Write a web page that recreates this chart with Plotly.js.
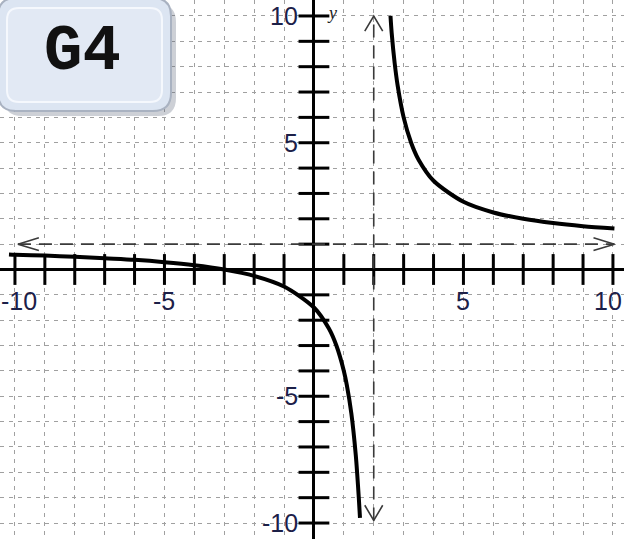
<!DOCTYPE html>
<html>
<head>
<meta charset="utf-8">
<script src="https://cdn.plot.ly/plotly-3.0.1.min.js"></script>
<style>
  html, body { margin: 0; padding: 0; background: #ffffff; }
  #chart { width: 624px; height: 539px; }
</style>
</head>
<body>
<div id="chart"></div>
<script>
// Rational function with a vertical asymptote at x = 2 and a horizontal one at y = 1.
// Left branch (below the horizontal asymptote, heading down toward x = 2)
const leftX = [-10.2, -10, -9, -8, -7, -6, -5, -4, -3, -2, -1, 0, 0.5, 0.75, 1, 1.1, 1.25, 1.4, 1.5, 1.54];
const leftY = [0.59, 0.58, 0.55, 0.5, 0.44, 0.38, 0.29, 0.17, 0, -0.25, -0.67, -1.5, -2.33, -3.0, -4.0, -4.56, -5.67, -7.33, -9.0, -9.8];
// Right branch (coming down from the top, flattening toward y = 1)
const rightX = [2.56, 2.6, 2.7, 2.8, 3, 3.25, 3.5, 4, 5, 6, 7, 8, 9, 10.05];
const rightY = [10.0, 9.33, 8.14, 7.25, 6.0, 5.0, 4.33, 3.5, 2.67, 2.25, 2.0, 1.83, 1.71, 1.62];

// Asymptotes: value and the extent of each dashed line
const verticalAsymptote = [2];
const verticalSpan = [-9.9, 10];
const horizontalAsymptote = [1];
const horizontalSpan = [-9.9, 10.05];

// Axis tick marks and their labels
const tickPositions = [-10, -9, -8, -7, -6, -5, -4, -3, -2, -1, 1, 2, 3, 4, 5, 6, 7, 8, 9, 10];
const xLabelValues = [-10, -5, 5, 10];
const xLabelText = ['-10', '-5', '5', '10'];
const yLabelValues = [10, 5, -5, -10];
const yLabelText = ['10', '5', '-5', '-10'];

const W = 624, H = 539;
const labelColor = '#1c2048';
const asymColor = '#3a3a3a';

const traces = [];

// Tick marks crossing the x axis
traces.push({
  x: tickPositions, y: tickPositions.map(() => 0),
  mode: 'markers', type: 'scatter', hoverinfo: 'skip', showlegend: false,
  marker: { symbol: 'line-ns', size: 22, line: { width: 3, color: '#000' } }
});
// Tick marks crossing the y axis
traces.push({
  x: tickPositions.map(() => 0), y: tickPositions,
  mode: 'markers', type: 'scatter', hoverinfo: 'skip', showlegend: false,
  marker: { symbol: 'line-ew', size: 22, line: { width: 3, color: '#000' } }
});

// Dashed asymptotes
verticalAsymptote.forEach(a => {
  traces.push({
    x: [a, a], y: verticalSpan, mode: 'lines', type: 'scatter', hoverinfo: 'skip', showlegend: false,
    line: { color: asymColor, width: 1.6, dash: '13px,8px' }
  });
  // open arrowheads at both ends
  const top = verticalSpan[1], bot = verticalSpan[0];
  traces.push({
    x: [a - 0.3, a, a + 0.3, null, a - 0.3, a, a + 0.3],
    y: [top - 0.6, top, top - 0.6, null, bot + 0.6, bot, bot + 0.6],
    mode: 'lines', type: 'scatter', hoverinfo: 'skip', showlegend: false,
    line: { color: asymColor, width: 1.6 }
  });
});
horizontalAsymptote.forEach(a => {
  traces.push({
    x: horizontalSpan, y: [a, a], mode: 'lines', type: 'scatter', hoverinfo: 'skip', showlegend: false,
    line: { color: asymColor, width: 1.6, dash: '13px,8px' }
  });
  const l = horizontalSpan[0], r = horizontalSpan[1];
  traces.push({
    x: [l + 0.7, l, l + 0.7, null, r - 0.7, r, r - 0.7],
    y: [a + 0.25, a, a - 0.25, null, a + 0.25, a, a - 0.25],
    mode: 'lines', type: 'scatter', hoverinfo: 'skip', showlegend: false,
    line: { color: asymColor, width: 1.6 }
  });
});

// The two branches of the curve
[[leftX, leftY], [rightX, rightY]].forEach(([xs, ys]) => {
  traces.push({
    x: xs, y: ys, mode: 'lines', type: 'scatter', hoverinfo: 'skip', showlegend: false,
    line: { color: '#000', width: 4, shape: 'spline', smoothing: 0.8 }
  });
});

// Pixel helpers for paper-referenced decorations
const px = v => v / W;
const py = v => 1 - v / H;
function roundedRect(x0, y0, x1, y1, r) {
  return 'M ' + px(x0 + r) + ' ' + py(y0) +
    ' L ' + px(x1 - r) + ' ' + py(y0) +
    ' Q ' + px(x1) + ' ' + py(y0) + ' ' + px(x1) + ' ' + py(y0 + r) +
    ' L ' + px(x1) + ' ' + py(y1 - r) +
    ' Q ' + px(x1) + ' ' + py(y1) + ' ' + px(x1 - r) + ' ' + py(y1) +
    ' L ' + px(x0 + r) + ' ' + py(y1) +
    ' Q ' + px(x0) + ' ' + py(y1) + ' ' + px(x0) + ' ' + py(y1 - r) +
    ' L ' + px(x0) + ' ' + py(y0 + r) +
    ' Q ' + px(x0) + ' ' + py(y0) + ' ' + px(x0 + r) + ' ' + py(y0) + ' Z';
}

const shapes = [
  // badge shadow
  { type: 'path', xref: 'paper', yref: 'paper', path: roundedRect(4, 4, 176, 116, 18),
    fillcolor: 'rgba(90,100,120,0.30)', line: { width: 0 }, layer: 'above' },
  // badge body
  { type: 'path', xref: 'paper', yref: 'paper', path: roundedRect(-2, -2, 171, 111, 18),
    fillcolor: '#dce5f2', line: { color: '#a9b2c1', width: 2 }, layer: 'above' },
  // inner highlight
  { type: 'path', xref: 'paper', yref: 'paper', path: roundedRect(7, 8, 162, 102, 12),
    fillcolor: '#e2e9f4', line: { color: '#f5f8fd', width: 2 }, layer: 'above' }
];

const annotations = [];
xLabelValues.forEach((v, i) => annotations.push({
  x: v, y: 0, xref: 'x', yref: 'y', text: xLabelText[i], showarrow: false,
  xanchor: 'center', yanchor: 'middle', yshift: -31, xshift: v === -10 ? 4 : (v === 10 ? -5 : 0),
  font: { family: 'Liberation Sans, Arial, sans-serif', size: 25, color: labelColor }
}));
yLabelValues.forEach((v, i) => annotations.push({
  x: 0, y: v, xref: 'x', yref: 'y', text: yLabelText[i], showarrow: false,
  xanchor: 'right', yanchor: 'middle', xshift: -14,
  font: { family: 'Liberation Sans, Arial, sans-serif', size: 25, color: labelColor }
}));
// axis name
annotations.push({
  x: 0.6, y: 10.1, xref: 'x', yref: 'y', text: '<i>y</i>', showarrow: false,
  xanchor: 'center', yanchor: 'middle',
  font: { family: 'Liberation Serif, serif', size: 18, color: '#222' }
});
// badge label
annotations.push({
  x: px(82), y: py(52), xref: 'paper', yref: 'paper', text: '<b>G4</b>', showarrow: false,
  xanchor: 'center', yanchor: 'middle',
  font: { family: 'Liberation Mono, Courier New, monospace', size: 64, color: '#111' }
});

const gridStyle = { showgrid: true, gridcolor: '#a0a0a0', gridwidth: 1, griddash: '4px,5px' };

const layout = {
  width: W, height: H,
  margin: { l: 0, r: 0, t: 0, b: 0, pad: 0 },
  paper_bgcolor: '#ffffff', plot_bgcolor: '#ffffff',
  showlegend: false,
  xaxis: Object.assign({
    range: [-10.5, 10.37], tickmode: 'linear', tick0: 0, dtick: 1,
    showticklabels: false, ticks: '', showline: false,
    zeroline: true, zerolinecolor: '#000', zerolinewidth: 3, fixedrange: true
  }, gridStyle),
  yaxis: Object.assign({
    range: [-10.63, 10.63], tickmode: 'linear', tick0: 0, dtick: 1,
    showticklabels: false, ticks: '', showline: false,
    zeroline: true, zerolinecolor: '#000', zerolinewidth: 3, fixedrange: true
  }, gridStyle),
  shapes: shapes,
  annotations: annotations
};

Plotly.newPlot('chart', traces, layout, { displayModeBar: false, staticPlot: true });
</script>
</body>
</html>
